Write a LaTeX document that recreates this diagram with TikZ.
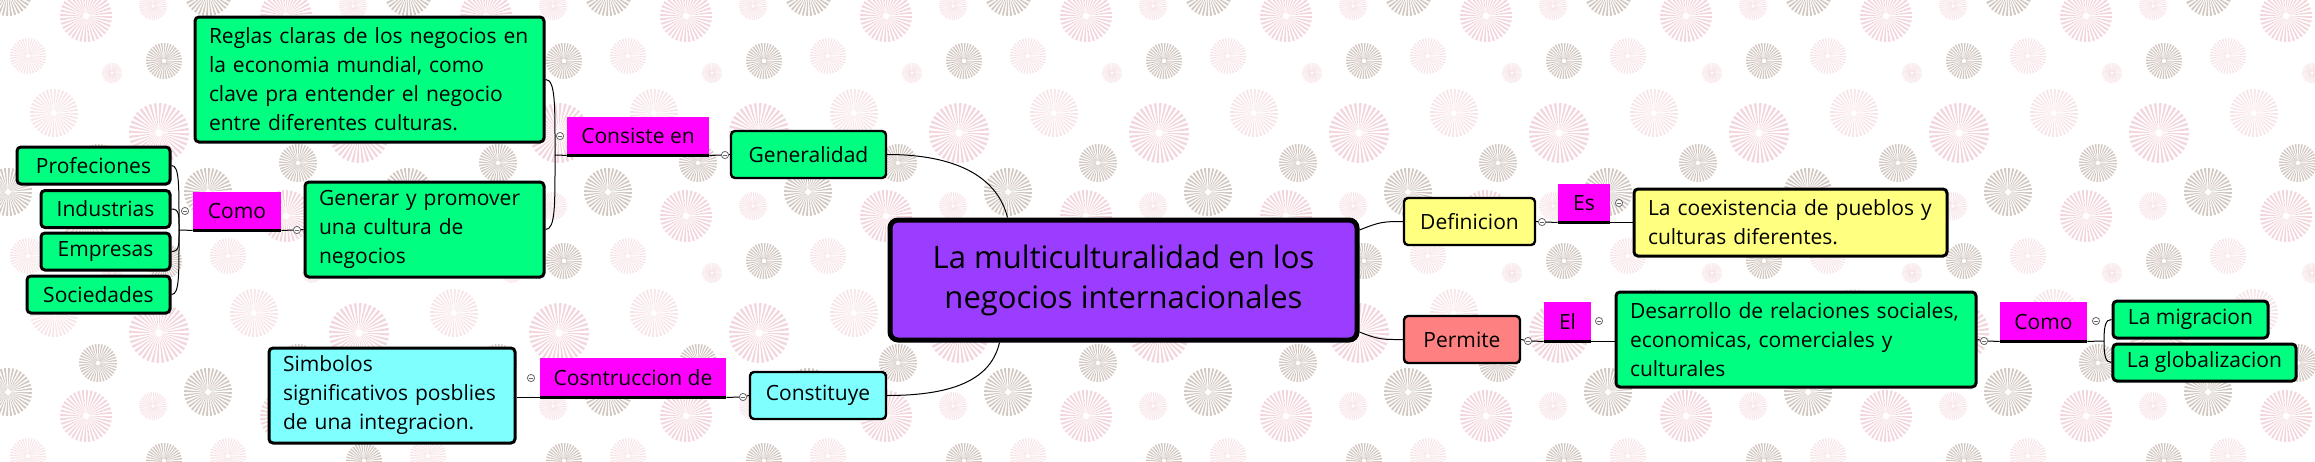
\documentclass[tikz,border=0pt]{standalone}
\usepackage{fontspec}
\setmainfont{Open Sans}
\usetikzlibrary{positioning,calc}

\definecolor{rootpurple}{RGB}{155,61,255}
\definecolor{topicgreen}{RGB}{0,255,128}
\definecolor{topiccyan}{RGB}{128,255,255}
\definecolor{topicyellow}{RGB}{255,255,128}
\definecolor{topicsalmon}{RGB}{255,128,128}
\definecolor{relmagenta}{RGB}{255,0,255}
\definecolor{burstpink}{RGB}{243,214,221}
\definecolor{burstgray}{RGB}{210,198,193}
\definecolor{burstpale}{RGB}{247,229,232}

% one starburst of the wallpaper: x, y, radius, colour
\newcommand\starburst[4]{%
  \fill[#4] \foreach \a in {0,10,...,350} {(#1,#2) +(\a:0.12*#3) -- +(\a:#3) -- +(\a+5:#3) -- cycle};}

\tikzset{
  topic/.style={draw, line width=1.2pt, rounded corners=2pt, inner xsep=7pt, inner ysep=0pt},
  note/.style={topic, line width=1.5pt, align=left},
  leaf/.style={topic, line width=1.5pt, fill=topicgreen, minimum height=18.5pt},
  rel/.style={fill=relmagenta, inner sep=0pt},
  tog/.style={circle, draw=black!60, fill=white, line width=0.4pt, minimum size=3.6pt, inner sep=0pt,
    path picture={\draw[black!60, line width=0.3pt] ([xshift=-1pt]path picture bounding box.center) -- ([xshift=1pt]path picture bounding box.center);}},
  link/.style={line width=0.5pt},
  bar/.style={line width=1.8pt}
}

\begin{document}
\begin{tikzpicture}[x=0.5pt, y=-0.5pt, font=\fontsize{10.5}{14.5}\selectfont]
\useasboundingbox (0,0) rectangle (2315,461);

% wallpaper
\begin{scope}
\clip (0,0) rectangle (2315,461);
\foreach \i in {-1,...,11}
  \foreach \j in {-1,...,2} {
    \starburst{200*\i+159}{200*\j+133}{30}{burstpink}
    \starburst{200*\i+86}{200*\j+16}{26}{burstpink}
    \starburst{200*\i+164}{200*\j+61}{18}{burstgray}
    \starburst{200*\i+28}{200*\j+56}{18}{burstpale}
    \starburst{200*\i+112}{200*\j+73}{10}{burstpale}
    \starburst{200*\i+54}{200*\j+113}{24}{burstpale}
    \starburst{200*\i+98}{200*\j+163}{19}{burstgray}
    \starburst{200*\i+8}{200*\j+192}{24}{burstgray}
    \starburst{200*\i+153}{200*\j+6}{14}{burstpale}
  }
\end{scope}

% central topic
\node[topic, line width=2.5pt, rounded corners=4pt, fill=rootpurple, minimum width=233.5pt, minimum height=60pt,
  align=center, font=\fontsize{15.5}{20}\selectfont] (root) at (1123.5,280) {La multiculturalidad en los\\negocios internacionales};

% main topics
\node[topic, fill=topicgreen, minimum width=77.5pt, minimum height=23.5pt] (gen) at (808.5,154.5) {Generalidad};
\node[topic, fill=topiccyan, minimum width=68pt, minimum height=23.5pt] (con) at (818,395.5) {Constituye};
\node[topic, fill=topicyellow, minimum width=65.5pt, minimum height=23.5pt] (def) at (1469.5,221.5) {Definicion};
\node[topic, fill=topicsalmon, minimum width=58pt, minimum height=23.5pt] (per) at (1462,339.5) {Permite};

% notes
\node[note, fill=topicgreen, text width=160.5pt, minimum height=62.5pt] (reg) at (369.5,79.5) {Reglas claras de los negocios en\\la economia mundial, como\\clave pra entender el negocio\\entre diferentes culturas.};
\node[note, fill=topicgreen, text width=105.5pt, minimum height=47.5pt] (gnr) at (424.5,229.5) {Generar y promover\\una cultura de\\negocios};
\node[note, fill=topiccyan, text width=109pt, minimum height=47.5pt] (sim) at (392,395.5) {Simbolos\\significativos posblies\\de una integracion.};
\node[note, fill=topicyellow, text width=142.5pt, minimum height=33.5pt] (coe) at (1790.5,222.5) {La coexistencia de pueblos y\\culturas diferentes.};
\node[note, fill=topicgreen, text width=166pt, minimum height=47.5pt] (des) at (1796,339.5) {Desarrollo de relaciones sociales,\\economicas, comerciales y\\culturales};

% leaves
\node[leaf, minimum width=76.5pt] (pro) at (93.5,165.5) {Profeciones};
\node[leaf, minimum width=64.5pt] (ind) at (105.5,209) {Industrias};
\node[leaf, minimum width=64.5pt] (emp) at (105.5,251.5) {Empresas};
\node[leaf, minimum width=71.5pt] (soc) at (98.5,294.5) {Sociedades};
\node[leaf, minimum width=77.5pt] (mig) at (2190.5,319.5) {La migracion};
\node[leaf, minimum width=91.5pt] (glo) at (2204.5,362.5) {La globalizacion};

% relation labels
\node[rel, minimum width=71pt, minimum height=19pt] (lcons) at (638,136) {Consiste en};
\node[rel, minimum width=44pt, minimum height=19pt] (lcomo) at (237,211) {Como};
\node[rel, minimum width=93pt, minimum height=19.5pt] (lcstr) at (633,377.5) {Cosntruccion de};
\node[rel, minimum width=26pt, minimum height=19pt] (les) at (1584,203) {Es};
\node[rel, minimum width=23.5pt, minimum height=19.5pt] (lel) at (1567.5,321.5) {El};
\node[rel, minimum width=43.5pt, minimum height=19.5pt] (lcomob) at (2043.5,321.5) {Como};

% collapse buttons
\node[tog] (t1) at (725,155) {};
\node[tog] (t2) at (560,136) {};
\node[tog] (t3) at (297,230) {};
\node[tog] (t4) at (185,211) {};
\node[tog] (t5) at (743,397) {};
\node[tog] (t6) at (531,378) {};
\node[tog] (t7) at (1542,222) {};
\node[tog] (t8) at (1619,203) {};
\node[tog] (t9) at (1528,341) {};
\node[tog] (t10) at (1599,321) {};
\node[tog] (t11) at (1984,341) {};
\node[tog] (t12) at (2096,321) {};

\coordinate (jcons) at (555,155);
\coordinate (jcomo) at (179,230);
\coordinate (jcomob) at (2104,341);

% central links
\draw[link] (gen.east) .. controls +(70,0) and +(-10,-40) .. ([xshift=60pt]root.north west);
\draw[link] (con.east) .. controls +(70,0) and +(-8,35) .. ([xshift=56pt]root.south west);
\draw[link] ([yshift=25pt]root.east) .. controls +(20,-8) and +(-20,0) .. (def.west);
\draw[link] ([yshift=-26pt]root.east) .. controls +(20,8) and +(-20,0) .. (per.west);

% Generalidad branch
\draw[link] (gen.west) -- (t1) -- (lcons.south east);
\draw[link] (lcons.south west) -- (jcons);
\draw[link] (jcons) .. controls +(0,-50) and +(10,0) .. (reg.east);
\draw[link] (jcons) .. controls +(0,50) and +(10,0) .. (gnr.east);
\draw[link] (gnr.west) -- (t3) -- (lcomo.south east);
\draw[link] (lcomo.south west) -- (jcomo);
\foreach \n/\d in {pro/-45, ind/-15, emp/15, soc/45}
  \draw[link] (jcomo) .. controls +(0,\d) and +(8,0) .. (\n.east);

% Constituye branch
\draw[link] (con.west) -- (t5) -- (lcstr.south east);
\draw[link] (lcstr.south west) -- (sim.east |- lcstr.south);

% Definicion and Permite branches
\draw[link] (def.east) -- (t7) -- (les.south west);
\draw[link] (les.south east) -- (coe.west |- les.south);
\draw[link] (per.east) -- (t9) -- (lel.south west);
\draw[link] (lel.south east) -- (des.west |- lel.south);
\draw[link] (des.east) -- (t11) -- (lcomob.south west);
\draw[link] (lcomob.south east) -- (jcomob);
\draw[link] (jcomob) .. controls +(0,-15) and +(-6,0) .. (mig.west);
\draw[link] (jcomob) .. controls +(0,15) and +(-6,0) .. (glo.west);

% underlines of the labels
\foreach \r in {lcons, lcomo, lcstr, les, lel, lcomob}
  \draw[bar] (\r.south west) -- (\r.south east);
\end{tikzpicture}
\end{document}
